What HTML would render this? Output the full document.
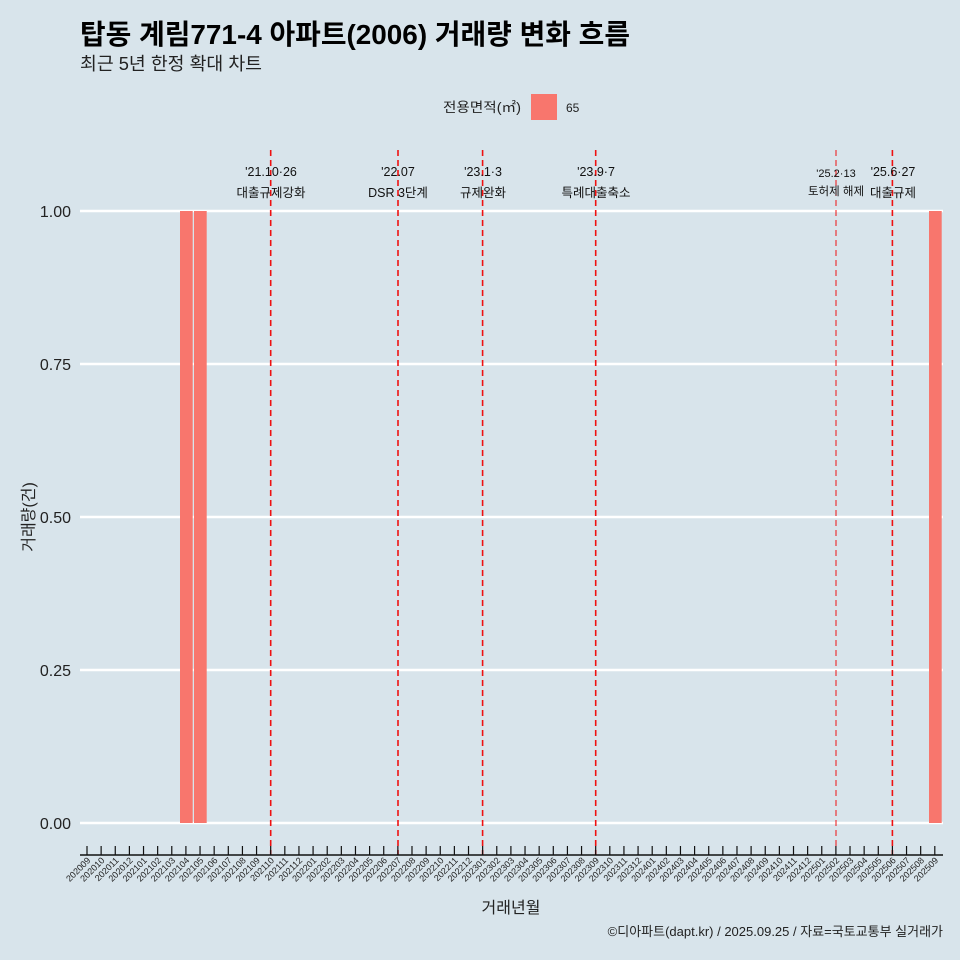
<!DOCTYPE html>
<html><head><meta charset="utf-8"><style>
body{margin:0;background:#d8e4eb;}
svg{display:block;font-family:"Liberation Sans","Noto Sans CJK KR",sans-serif;}
</style></head><body>
<svg width="960" height="960" viewBox="0 0 960 960" xmlns="http://www.w3.org/2000/svg">
<rect width="960" height="960" fill="#d8e4eb"/>
<text x="80" y="44" font-size="28" font-weight="bold" fill="#000" textLength="550" lengthAdjust="spacingAndGlyphs">탑동 계림771-4 아파트(2006) 거래량 변화 흐름</text>
<text x="80" y="70" font-size="18" fill="#222" textLength="182" lengthAdjust="spacingAndGlyphs">최근 5년 한정 확대 차트</text>
<text x="521" y="112" font-size="13.5" text-anchor="end" fill="#222" textLength="78" lengthAdjust="spacingAndGlyphs">전용면적(㎡)</text>
<rect x="531" y="94" width="26" height="26" fill="#f8766d"/>
<text x="566" y="112" font-size="12" fill="#222">65</text>
<g stroke="#fff" stroke-width="2.5">
<line x1="80" x2="943" y1="211" y2="211"/>
<line x1="80" x2="943" y1="364" y2="364"/>
<line x1="80" x2="943" y1="517" y2="517"/>
<line x1="80" x2="943" y1="670" y2="670"/>
<line x1="80" x2="943" y1="823" y2="823"/>
</g>
<g font-size="16" text-anchor="end" fill="#222">
<text x="71" y="217">1.00</text><text x="71" y="370">0.75</text><text x="71" y="523">0.50</text><text x="71" y="676">0.25</text><text x="71" y="829">0.00</text>
</g>
<text transform="translate(34,517) rotate(-90)" font-size="16" text-anchor="middle" fill="#222">거래량(건)</text>
<g fill="#f8766d">
<rect x="180" y="211" width="12.7" height="612"/>
<rect x="194" y="211" width="12.7" height="612"/>
<rect x="929" y="211" width="12.7" height="612"/>
</g>
<g stroke="#ee1111" stroke-width="1.6" stroke-dasharray="6,4">
<line x1="270.7" x2="270.7" y1="150" y2="855"/>
<line x1="398" x2="398" y1="150" y2="855"/>
<line x1="482.6" x2="482.6" y1="150" y2="855"/>
<line x1="595.7" x2="595.7" y1="150" y2="855"/>
<line x1="836" x2="836" y1="150" y2="855" stroke-width="1"/>
<line x1="892.4" x2="892.4" y1="150" y2="855"/>
</g>
<g font-size="12.5" text-anchor="middle" fill="#111">
<text x="271" y="176">'21.10·26</text><text x="271" y="197">대출규제강화</text>
<text x="398" y="176">'22.07</text><text x="398" y="197">DSR 3단계</text>
<text x="483" y="176">'23.1·3</text><text x="483" y="197">규제완화</text>
<text x="596" y="176">'23.9·7</text><text x="596" y="197">특례대출축소</text>
<text x="836" y="177" font-size="11">'25.2·13</text><text x="836" y="195" font-size="11.5">토허제 해제</text>
<text x="893" y="176">'25.6·27</text><text x="893" y="197">대출규제</text>
</g>
<line x1="80" x2="943" y1="855" y2="855" stroke="#111" stroke-width="1.5"/>
<g id="ticks" stroke="#111" stroke-width="1.2"></g>
<g id="labs" font-size="9" fill="#222"></g>
<text x="511" y="913" font-size="16" text-anchor="middle" fill="#222">거래년월</text>
<text x="943" y="936" font-size="13" text-anchor="end" fill="#222">©디아파트(dapt.kr) / 2025.09.25 / 자료=국토교통부 실거래가</text>
<script>
var t=document.getElementById('ticks'),l=document.getElementById('labs'),ns='http://www.w3.org/2000/svg';
for(var i=0;i<61;i++){var x=87+14.13*i;var y=2020+Math.floor((8+i)/12),m=(8+i)%12+1;
var ln=document.createElementNS(ns,'line');ln.setAttribute('x1',x);ln.setAttribute('x2',x);ln.setAttribute('y1',846);ln.setAttribute('y2',855);t.appendChild(ln);
var tx=document.createElementNS(ns,'text');tx.setAttribute('text-anchor','end');tx.setAttribute('transform','translate('+(x+4)+',861) rotate(-45)');tx.textContent=y+(m<10?'0':'')+m;l.appendChild(tx);}
</script>
</svg>
</body></html>
